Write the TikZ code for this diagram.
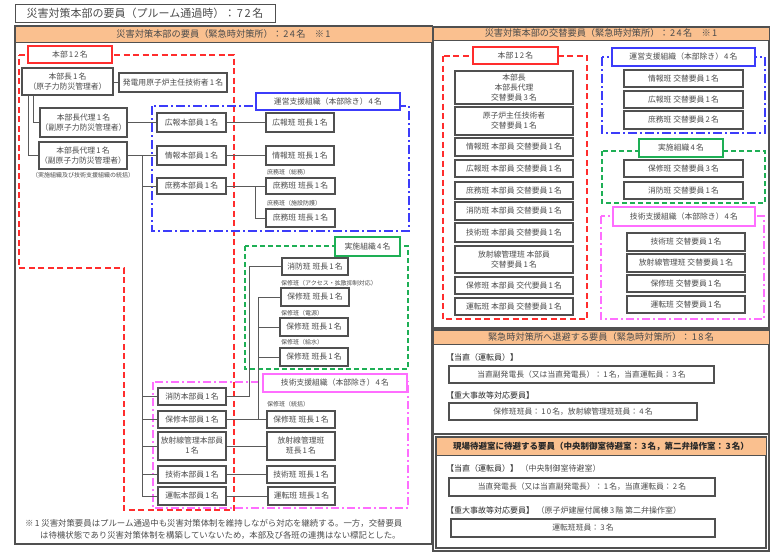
\documentclass[tikz,border=0pt]{standalone}
\usepackage{fontspec}
\setmainfont{Noto Sans CJK JP}
\XeTeXinterchartokenstate=1
\newXeTeXintercharclass\digcls
\XeTeXcharclass`0=\digcls \XeTeXcharclass`1=\digcls \XeTeXcharclass`2=\digcls
\XeTeXcharclass`3=\digcls \XeTeXcharclass`4=\digcls \XeTeXcharclass`5=\digcls
\XeTeXcharclass`6=\digcls \XeTeXcharclass`7=\digcls \XeTeXcharclass`8=\digcls
\XeTeXcharclass`9=\digcls
\XeTeXinterchartoks 0 \digcls = {\hskip0.15em\relax}
\XeTeXinterchartoks \digcls 0 = {\hskip0.15em\relax}
\XeTeXinterchartoks 1 \digcls = {\hskip0.15em\relax}
\XeTeXinterchartoks \digcls 1 = {\hskip0.15em\relax}
\definecolor{ored}{RGB}{255,45,45}
\definecolor{oblue}{RGB}{60,60,250}
\definecolor{ogreen}{RGB}{30,175,85}
\definecolor{omag}{RGB}{255,110,255}
\definecolor{orng}{RGB}{250,192,143}
\definecolor{boxc}{RGB}{80,80,80}
\definecolor{txtc}{RGB}{75,75,75}
\definecolor{linec}{RGB}{90,90,90}
\definecolor{dtxt}{RGB}{40,40,40}
\tikzset{
 bb/.style n args={4}{minimum width={(#3-#1)*1pt}, minimum height={(#4-#2)*1pt}, at={({(#1+#3)/2},{(#2+#4)/2})}},
 bx/.style={draw=boxc, line width=1.1pt, fill=white, inner sep=0pt, align=center, text=txtc, font=\fontsize{7.8}{10}\selectfont},
 lab/.style={draw=#1, line width=1.8pt, fill=white, inner sep=0pt, text=txtc, font=\fontsize{7.8}{10}\selectfont},
 sml/.style={anchor=west, inner sep=0pt, text=txtc, font=\fontsize{6}{7}\selectfont},
 hdr/.style={draw=boxc, line width=1pt, fill=orng, inner sep=0pt, text=txtc, font=\fontsize{9.2}{11}\selectfont},
 sec/.style={anchor=west, inner sep=0pt, text=dtxt, font=\fontsize{8}{10}\selectfont},
 frm/.style={draw=boxc, line width=1.1pt},
 conn/.style={draw=linec, line width=0.8pt},
 redr/.style={draw=ored, line width=1.8pt, dash pattern=on 6pt off 3.5pt},
 bluer/.style={draw=oblue, line width=1.6pt, dash pattern=on 9pt off 3pt on 2pt off 3pt},
 greenr/.style={draw=ogreen, line width=1.6pt, dash pattern=on 5pt off 3pt},
 magr/.style={draw=omag, line width=1.6pt, dash pattern=on 8pt off 3pt on 2pt off 3pt},
}
\begin{document}
\begin{tikzpicture}[x=1pt,y=-1pt]
\useasboundingbox (0,0) rectangle (770,554);
% ---------- title ----------
\node[draw=boxc, line width=1pt, inner sep=0pt, bb={15}{4}{275}{22}, text=txtc, font=\fontsize{11}{13}\selectfont] (title) {災害対策本部の要員（プルーム通過時）：72名};
% ---------- left panel ----------
\draw[frm] (15,26) rectangle (432,544);
\node[hdr, bb={15}{26}{432}{42}] (hl) {災害対策本部の要員（緊急時対策所）：24名\quad ※1};
% regions
\draw[redr] (19,55) -- (234,55) -- (234,510) -- (124,510) -- (124,268) -- (19,268) -- cycle;
\draw[bluer] (152,106) rectangle (409,231);
\draw[greenr] (245,246) rectangle (408,369);
\draw[magr] (153,382) rectangle (408,508);
% region labels
\node[lab=ored, bb={28}{46}{112}{63}] (hq) {本部12名};
\node[lab=oblue, bb={256}{93}{400}{110}] (blab) {運営支援組織（本部除き）4名};
\node[lab=ogreen, bb={335}{237}{400}{256}] (glab) {実施組織4名};
\node[lab=omag, bb={263}{374}{407}{392}] (mlab) {技術支援組織（本部除き）4名};
% boxes
\node[bx, bb={22}{68}{113}{95}] (chief) {本部長1名\\（原子力防災管理者）};
\node[bx, bb={119}{73}{227}{92}] (eng) {発電用原子炉主任技術者1名};
\node[bx, bb={40}{108}{127}{137}] (dep1) {本部長代理1名\\（副原子力防災管理者）};
\node[bx, bb={39}{142}{127}{169}] (dep2) {本部長代理1名\\（副原子力防災管理者）};
\node[sml, anchor=center] (dep2n) at (83,175) {（実施組織及び技術支援組織の統括）};
\node[bx, bb={157}{113}{226}{132}] (kohoH) {広報本部員1名};
\node[bx, bb={266}{113}{334}{132}] (kohoL) {広報班\ 班長1名};
\node[bx, bb={157}{146}{226}{165}] (johoH) {情報本部員1名};
\node[bx, bb={266}{146}{334}{165}] (johoL) {情報班\ 班長1名};
\node[bx, bb={157}{178}{226}{194}] (shomuH) {庶務本部員1名};
\node[sml] (lsh1) at (267,172) {庶務班（総務）};
\node[bx, bb={266}{178}{335}{194}] (shomuL1) {庶務班\ 班長1名};
\node[sml] (lsh2) at (267,203.5) {庶務班（施設防護）};
\node[bx, bb={266}{209}{335}{227}] (shomuL2) {庶務班\ 班長1名};
\node[bx, bb={282}{258}{348}{275}] (shobouL) {消防班\ 班長1名};
\node[sml] (lho1) at (281,283) {保修班（アクセス・拡散抑制対応）};
\node[bx, bb={281}{288}{349}{306}] (hoshuL1) {保修班\ 班長1名};
\node[sml] (lho2) at (281,313) {保修班（電源）};
\node[bx, bb={280}{318}{348}{336}] (hoshuL2) {保修班\ 班長1名};
\node[sml] (lho3) at (281,342.5) {保修班（給水）};
\node[bx, bb={280}{348}{348}{366}] (hoshuL3) {保修班\ 班長1名};
\node[bx, bb={158}{388}{226}{405}] (shobouH) {消防本部員1名};
\node[bx, bb={158}{411}{226}{428}] (hoshuH) {保修本部員1名};
\node[bx, bb={158}{432}{226}{460}] (hoshaH) {放射線管理本部員\\1名};
\node[bx, bb={158}{466}{226}{483}] (gijutsuH) {技術本部員1名};
\node[bx, bb={158}{487}{226}{505}] (untenH) {運転本部員1名};
\node[sml] (lho0) at (267,404.5) {保修班（統括）};
\node[bx, bb={267}{411}{335}{428}] (hoshuL0) {保修班\ 班長1名};
\node[bx, bb={267}{432}{335}{460}] (hoshaL) {放射線管理班\\班長1名};
\node[bx, bb={267}{466}{335}{483}] (gijutsuL) {技術班\ 班長1名};
\node[bx, bb={268}{487}{335}{505}] (untenL) {運転班\ 班長1名};
% connectors
\draw[conn] (eng.west) -- (eng.west -| chief.east);
\draw[conn] ([xshift=12pt]chief.south west) |- (dep1.west);
\draw[conn] ([xshift=7pt]chief.south west) |- (dep2.west);
\draw[conn] (dep1.east) -- (kohoH.west);
\draw[conn] (kohoH.east) -- (kohoL.west);
\draw[conn] (dep2.east) -- (johoH.west);
\draw[conn] (johoH.east) -- (johoL.west);
\draw[conn] ([xshift=15pt]dep2.east) |- (shomuH.west);
\draw[conn] ([xshift=15pt]dep2.east) |- (shobouH.west);
\draw[conn] ([xshift=15pt]dep2.east) |- (hoshuH.west);
\draw[conn] ([xshift=15pt]dep2.east) |- (hoshaH.west);
\draw[conn] ([xshift=15pt]dep2.east) |- (gijutsuH.west);
\draw[conn] ([xshift=15pt]dep2.east) |- (untenH.west);
\draw[conn] (shomuH.east) -- (shomuL1.west);
\draw[conn] ([xshift=29pt]shomuH.east) |- (shomuL2.west);
\draw[conn] (shobouH.east) -| ([xshift=-32pt]shobouL.west) -- (shobouL.west);
\draw[conn] (hoshuH.east) -- (hoshuL0.west);
\draw[conn] ([xshift=32pt]hoshuH.east) |- (hoshuL1.west);
\draw[conn] ([xshift=32pt]hoshuH.east) |- (hoshuL2.west);
\draw[conn] ([xshift=32pt]hoshuH.east) |- (hoshuL3.west);
\draw[conn] (hoshaH.east) -- (hoshaL.west);
\draw[conn] (gijutsuH.east) -- (gijutsuL.west);
\draw[conn] (untenH.east) -- (untenL.west);
% footnote
\node[anchor=west, inner sep=0pt, text=txtc, font=\fontsize{8.4}{10}\selectfont] (fn1) at (25,523) {※1\ 災害対策要員はプルーム通過中も災害対策体制を維持しながら対応を継続する。一方，交替要員};
\node[anchor=west, inner sep=0pt, text=txtc, font=\fontsize{8.4}{10}\selectfont] (fn2) at (40,535) {は待機状態であり災害対策体制を構築していないため，本部及び各班の連携はない標記とした。};
% ---------- right panel: section 1 ----------
\draw[frm] (433,27) rectangle (769,328);
\node[hdr, bb={433}{27}{769}{40}] (hr) {災害対策本部の交替要員（緊急時対策所）：24名\quad ※1};
\draw[redr] (443,56) rectangle (587,319);
\draw[bluer] (602,57) rectangle (765,133);
\draw[greenr] (602,151) rectangle (765,203);
\draw[magr] (601,216) rectangle (764,319);
\node[lab=ored, bb={473}{47}{558}{64}] (rhq) {本部12名};
\node[lab=oblue, bb={612}{48}{755}{66}] (rblab) {運営支援組織（本部除き）4名};
\node[lab=ogreen, bb={639}{139}{723}{157}] (rglab) {実施組織4名};
\node[lab=omag, bb={613}{207}{755}{226}] (rmlab) {技術支援組織（本部除き）4名};
\node[bx, bb={455}{71}{573}{104}] (r1) {本部長\\本部長代理\\交替要員3名};
\node[bx, bb={455}{107}{573}{135}] (r2) {原子炉主任技術者\\交替要員1名};
\node[bx, bb={455}{138}{573}{156}] (r3) {情報班\ 本部員\ 交替要員1名};
\node[bx, bb={455}{160}{573}{177}] (r4) {広報班\ 本部員\ 交替要員1名};
\node[bx, bb={455}{182}{573}{199}] (r5) {庶務班\ 本部員\ 交替要員1名};
\node[bx, bb={455}{202}{573}{220}] (r6) {消防班\ 本部員\ 交替要員1名};
\node[bx, bb={455}{223}{573}{242}] (r7) {技術班\ 本部員\ 交替要員1名};
\node[bx, bb={455}{246}{573}{273}] (r8) {放射線管理班\ 本部員\\交替要員1名};
\node[bx, bb={455}{277}{573}{294}] (r9) {保修班\ 本部員\ 交代要員1名};
\node[bx, bb={455}{298}{573}{315}] (r10) {運転班\ 本部員\ 交替要員1名};
\node[bx, bb={624}{70}{743}{87}] (b1) {情報班\ 交替要員1名};
\node[bx, bb={624}{91}{743}{108}] (b2) {広報班\ 交替要員1名};
\node[bx, bb={624}{111}{743}{129}] (b3) {庶務班\ 交替要員2名};
\node[bx, bb={624}{160}{743}{177}] (g1) {保修班\ 交替要員3名};
\node[bx, bb={624}{182}{743}{199}] (g2) {消防班\ 交替要員1名};
\node[bx, bb={627}{233}{745}{251}] (m1) {技術班\ 交替要員1名};
\node[bx, bb={627}{254}{745}{272}] (m2) {放射線管理班\ 交替要員1名};
\node[bx, bb={627}{275}{745}{292}] (m3) {保修班\ 交替要員1名};
\node[bx, bb={627}{296}{745}{313}] (m4) {運転班\ 交替要員1名};
% ---------- right panel: section 2 ----------
\draw[frm] (433,330) rectangle (769,434);
\node[hdr, bb={433}{330}{769}{344}] (h2) {緊急時対策所へ退避する要員（緊急時対策所）：18名};
\node[sec] (s2a) at (446,357) {【当直（運転員）】};
\node[bx, bb={449}{366}{714}{383}] (s2b) {当直副発電長（又は当直発電長）：1名，当直運転員：3名};
\node[sec] (s2c) at (446,395) {【重大事故等対応要員】};
\node[bx, bb={449}{403}{697}{420}] (s2d) {保修班班員：10名，放射線管理班班員：4名};
% ---------- right panel: section 3 ----------
\draw[frm] (433,434) rectangle (769,551);
\draw[frm] (436,437) rectangle (766,548);
\node[hdr, bb={436}{437}{766}{455}, text=dtxt, font=\bfseries\fontsize{8.5}{10}\selectfont] (h3) {現場待避室に待避する要員（中央制御室待避室：3名，第二弁操作室：3名）};
\node[sec] (s3a) at (446,468) {【当直（運転員）】\hspace{0.3em}\textcolor{txtc}{（中央制御室待避室）}};
\node[bx, bb={449}{478}{715}{496}] (s3b) {当直発電長（又は当直副発電長）：1名，当直運転員：2名};
\node[sec] (s3c) at (446,510) {【重大事故等対応要員】\hspace{0.3em}\textcolor{txtc}{（原子炉建屋付属棟3階\ 第二弁操作室）}};
\node[bx, bb={451}{519}{715}{537}] (s3d) {運転班班員：3名};
\end{tikzpicture}
\end{document}
